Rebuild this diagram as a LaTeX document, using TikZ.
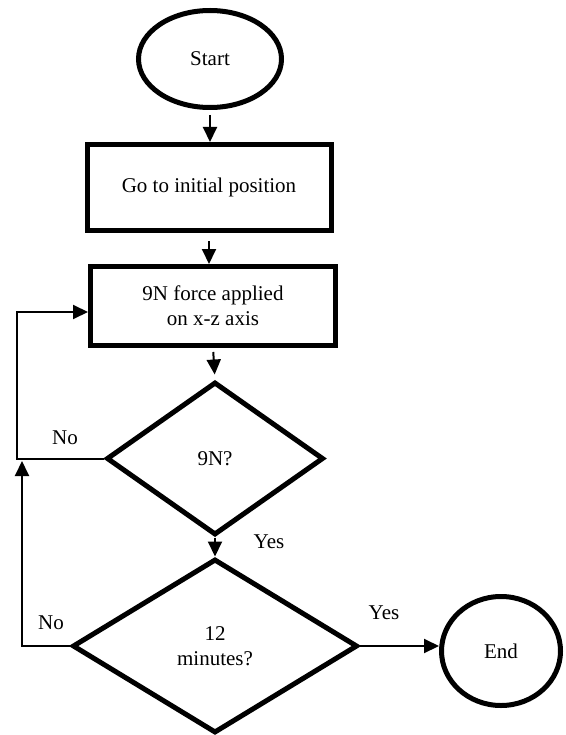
\documentclass[tikz,border=0pt]{standalone}
\usepackage{fontspec}
\setmainfont{Liberation Serif}
\usetikzlibrary{shapes.geometric,arrows.meta}

\begin{document}
\begin{tikzpicture}[x=1pt,y=-1pt,
  every node/.style={font=\rmfamily\fontsize{21}{25}\selectfont},
  term/.style={draw,ellipse,line width=5pt,inner sep=0pt},
  proc/.style={draw,rectangle,line width=5pt,align=center,inner sep=0pt},
  test/.style={draw,diamond,line width=5pt,align=center,inner sep=0pt},
  flow/.style={line width=2pt,-{Triangle[length=15pt,width=14pt]}}]
\useasboundingbox (0,0) rectangle (565,735);
% shapes
\node[term,minimum width=143pt,minimum height=97pt] (start) at (210,59) {Start};
\node[proc,minimum width=244pt,minimum height=86pt] (init) at (209,187.5) {Go to initial position};
\node[proc,minimum width=245pt,minimum height=79pt] (force) at (213,306) {9N force applied\\on x-z axis};
\node[test,minimum width=217pt,minimum height=153pt] (check) at (215,458.5) {9N?};
\node[test,minimum width=285pt,minimum height=174pt] (timer) at (215,646) {12\\minutes?};
\node[term,minimum width=119pt,minimum height=109pt] (end) at (501,651) {End};
% connectors
\draw[flow,shorten <=5pt] (start.south) -- (start.south |- init.north);
\draw[flow,shorten <=8pt] (init.south) -- (init.south |- force.north);
\draw[flow,shorten <=4pt,shorten >=5pt] (force.south) -- (check.north);
\draw[flow] (check.south) -- (timer.north);
\node (yes1) at (269,542) {Yes};
\draw[flow] (timer.east) -- (timer.east -| end.west);
\node (yes2) at (384,613) {Yes};
\coordinate (backA) at (17,312);
\draw[flow] (check.west) -- (check.west -| backA) -- (backA) -- (backA -| force.west);
\node (no1) at (65,438) {No};
\coordinate (backB) at (22,461);
\draw[flow] (timer.west) -- (timer.west -| backB) -- (backB);
\node (no2) at (51,623) {No};
\end{tikzpicture}
\end{document}
